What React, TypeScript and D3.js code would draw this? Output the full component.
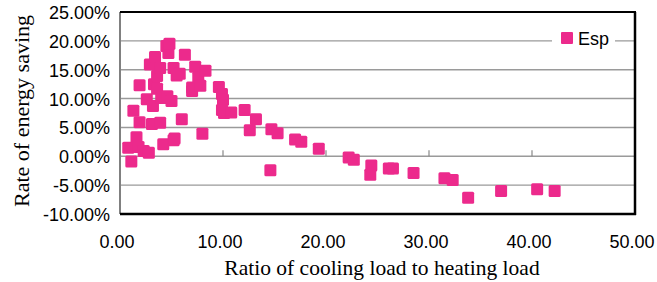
import React from "react";
import * as d3 from "d3";

const ratio: number[] = [
  0.8, 1.1, 1.3, 1.6, 1.8, 1.9, 1.9, 2.3, 2.6, 2.8, 2.9, 3.1, 3.2, 3.3, 3.4, 3.6, 3.6, 3.9, 3.9, 4.0,
  4.2, 4.5, 4.6, 4.7, 4.8, 5.0, 5.2, 5.2, 5.3, 5.5, 5.8, 6.0, 6.3, 7.0, 7.0, 7.3, 7.6, 7.8, 8.0, 8.3,
  9.6, 9.9, 10.0, 9.9, 10.1, 10.8, 12.1, 12.6, 13.2, 14.6, 14.7, 15.3, 17.0, 17.6, 19.3, 22.2, 22.7, 24.3, 24.4, 26.1,
  26.5, 28.5, 31.5, 32.3, 33.8, 37.0, 40.5, 42.2,
];
const saving: number[] = [
  1.5, -0.9, 7.9, 3.3, 1.6, 5.9, 12.3, 0.9, 9.9, 0.6, 15.9, 5.6, 8.7, 12.5, 17.2, 13.9, 11.7, 15.3, 5.8, 10.1,
  2.1, 19.1, 10.4, 17.9, 19.5, 9.6, 2.8, 15.3, 3.1, 14.0, 14.3, 6.4, 17.6, 11.3, 11.9, 15.5, 13.6, 12.2, 3.9, 14.8,
  12.0, 10.8, 9.8, 8.0, 7.5, 7.6, 8.0, 4.5, 6.4, -2.4, 4.7, 4.0, 2.9, 2.5, 1.3, -0.2, -0.6, -3.2, -1.6, -2.1,
  -2.1, -2.9, -3.8, -4.1, -7.2, -6.0, -5.7, -6.0,
];
const xTicks: number[] = [0, 10, 20, 30, 40, 50];
const yTicks: number[] = [25, 20, 15, 10, 5, 0, -5, -10];
const seriesName = "Esp";

const W = 657;
const H = 282;
const left = 120;
const right = 635;
const top = 12;
const bottom = 214;
const pink = "#EC2A8C";

export default function App() {
  const x = d3.scaleLinear().domain([0, 50]).range([left, right]);
  const y = d3.scaleLinear().domain([-10, 25]).range([bottom, top]);
  const sans = "'Liberation Sans', Arial, sans-serif";
  const serif = "'Liberation Serif', 'Times New Roman', serif";
  const ms = 12;
  return (
    <svg width={W} height={H} style={{ position: "absolute", left: 0, top: 0 }}>
      <rect x={0} y={0} width={W} height={H} fill="#fff" />
      {yTicks.filter((t) => t !== 25 && t !== -10).map((t) => (
        <line key={"g" + t} x1={left} x2={right} y1={y(t)} y2={y(t)} stroke="#9a9a9a" strokeWidth={1.4} />
      ))}
      {xTicks.filter((t) => t > 0 && t < 50).map((t) => (
        <line key={"t" + t} x1={x(t)} x2={x(t)} y1={y(0)} y2={y(0) - 6} stroke="#888" strokeWidth={1.2} />
      ))}
      <line x1={left} x2={left} y1={top} y2={bottom} stroke="#808080" strokeWidth={2} />
      <line x1={left} x2={right + 1} y1={top} y2={top} stroke="#000" strokeWidth={2} />
      <line x1={right} x2={right} y1={top} y2={bottom + 1} stroke="#000" strokeWidth={2.5} />
      <line x1={left} x2={right + 1} y1={bottom} y2={bottom} stroke="#000" strokeWidth={2.5} />
      {ratio.map((r, i) => (
        <rect key={"p" + i} x={x(r) - ms / 2} y={y(saving[i]) - ms / 2} width={ms} height={ms} rx={1.5} fill={pink} />
      ))}
      <rect x={552} y={30} width={63} height={18} fill="#fff" />
      <rect x={561} y={32} width={12} height={12} rx={1} fill={pink} />
      <text x={578} y={45} fontFamily={sans} fontSize={18} fill="#000">{seriesName}</text>
      {yTicks.map((t) => (
        <text key={"yl" + t} x={110} y={y(t) + 1} textAnchor="end" dominantBaseline="central" fontFamily={sans} fontSize={18} fill="#000">
          {t.toFixed(2) + "%"}
        </text>
      ))}
      {xTicks.map((t) => (
        <text key={"xl" + t} x={x(t) - 3} y={248} textAnchor="middle" fontFamily={sans} fontSize={18} fill="#000">
          {t.toFixed(2)}
        </text>
      ))}
      <text x={382} y={275} textAnchor="middle" fontFamily={serif} fontSize={21.5} fill="#000">
        Ratio of cooling load to heating load
      </text>
      <text transform={`translate(29,111) rotate(-90)`} textAnchor="middle" fontFamily={serif} fontSize={22} fill="#000">
        Rate of energy saving
      </text>
    </svg>
  );
}
